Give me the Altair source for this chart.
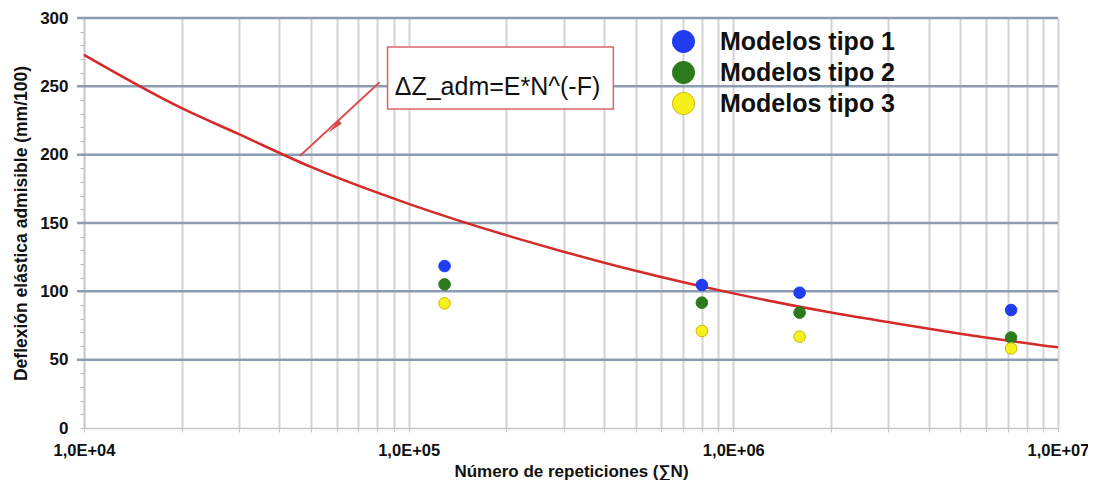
import altair as alt
import pandas as pd

# ---- data ----
curve_n = [1e4, 2e4, 3e4, 5e4, 1e5, 2e5, 3e5, 5e5, 1e6, 2e6, 3e6, 5e6, 1e7]
curve_dz = [273, 234, 215, 191, 164, 141, 129, 115, 98.5, 84.5, 77.5, 69, 59]

group_n = [1.29e5, 8.0e5, 1.6e6, 7.17e6]
tipo1 = [118.5, 104.6, 99.0, 86.3]
tipo2 = [105.1, 91.7, 84.4, 66.2]
tipo3 = [91.2, 71.0, 66.8, 58.2]
series = ["Modelos tipo 1", "Modelos tipo 2", "Modelos tipo 3"]
fill_colors = ["#1f3cf0", "#2b7a1c", "#f8f01c"]
stroke_colors = ["#1f3cf0", "#2b7a1c", "#c9b800"]

x_grid = [k * 10 ** e for e in (4, 5, 6) for k in range(1, 10)] + [1e7]
y_ticks = list(range(0, 301, 10))
y_major = [50, 100, 150, 200, 250, 300]

formula_label = "\u0394Z_adm=E*N^(-F)"
box_n = [8.61e4, 4.27e5]
box_dz = [278.7, 233.4]
label_n = 9.06e4
label_dz = 249.5
arrow_n = [4.62e4, 8.14e4]
arrow_dz = [199.0, 253.0]
head_n = 5.9e4
head_dz = 220.0

FONT = "Liberation Sans"
W, H = 974, 410

xscale = alt.Scale(type="log", domain=[1e4, 1e7], nice=False)
yscale = alt.Scale(domain=[0, 300], nice=False)

curve_df = pd.DataFrame({"N": curve_n, "dz": curve_dz})
rows = []
for s, vals in zip(series, [tipo1, tipo2, tipo3]):
    for n, v in zip(group_n, vals):
        rows.append({"N": n, "dz": v, "serie": s})
pts_df = pd.DataFrame(rows)

x_axis = alt.Axis(
    values=x_grid,
    labelExpr="slice(format(datum.value,'.1e'),0,4)=='1.0e' ? '1,0E+0' + slice(format(datum.value,'.1e'),5) : ''",
    labelOverlap=False,
    labelFlush=False,
    labelFont=FONT, labelFontSize=16.5, labelFontWeight="bold", labelColor="#111",
    labelPadding=10,
    title="Número de repeticiones (∑N)",
    titleFont=FONT, titleFontSize=17, titleFontWeight="bold", titleColor="#111",
    titlePadding=5,
    grid=True, gridColor="#d4d4d4", gridWidth=2,
    domainColor="#c8c8c8", domainWidth=1.5,
    tickColor="#c8c8c8", tickSize=4,
)
y_axis = alt.Axis(
    values=y_ticks,
    labelExpr="datum.value % 50 == 0 ? datum.label : ''",
    labelOverlap=False,
    labelFont=FONT, labelFontSize=17, labelFontWeight="bold", labelColor="#111",
    labelPadding=12,
    title="Deflexión elástica admisible (mm/100)",
    titleFont=FONT, titleFontSize=17.5, titleFontWeight="bold", titleColor="#111",
    titlePadding=9,
    grid=False,
    domainColor="#c8c8c8", domainWidth=1.5,
    tickColor="#b8b8b8", tickSize=4,
)


def X(field):
    return alt.X(field, scale=xscale, axis=x_axis)


def Y(field):
    return alt.Y(field, scale=yscale, axis=y_axis)


hgrid = alt.Chart(pd.DataFrame({"dz": y_major})).mark_rule(
    color="#8c9db3", strokeWidth=2.5
).encode(y=Y("dz:Q"), x=alt.value(-7), x2=alt.value(W))

curve = alt.Chart(curve_df).mark_line(
    color="#d42a2a", strokeWidth=2.5, interpolate="monotone"
).encode(x=X("N:Q"), y=Y("dz:Q"))

points = alt.Chart(pts_df).mark_circle(size=135, opacity=1, strokeWidth=1).encode(
    x=X("N:Q"),
    y=Y("dz:Q"),
    color=alt.Color(
        "serie:N",
        scale=alt.Scale(domain=series, range=fill_colors),
        legend=alt.Legend(
            title=None, orient="none", legendX=587, legendY=11,
            symbolSize=490, symbolType="circle", symbolStrokeWidth=1,
            labelFont=FONT, labelFontSize=25, labelFontWeight="bold", labelColor="#111",
            labelOffset=24, rowPadding=4, padding=0, labelLimit=400,
        ),
    ),
    stroke=alt.Stroke("serie:N", scale=alt.Scale(domain=series, range=stroke_colors), legend=None),
)

arrow = alt.Chart(pd.DataFrame({"n1": [arrow_n[0]], "n2": [arrow_n[1]], "d1": [arrow_dz[0]], "d2": [arrow_dz[1]]})).mark_rule(
    color="#df4b4d", strokeWidth=1.8
).encode(
    x=X("n1:Q"), x2="n2:Q",
    y=Y("d1:Q"), y2="d2:Q",
)
head = alt.Chart(pd.DataFrame({"N": [head_n], "dz": [head_dz]})).mark_point(
    shape="M0,-1L0.3,1L-0.3,1Z", angle=227, filled=True, size=260, color="#d9484a", opacity=1
).encode(x=X("N:Q"), y=Y("dz:Q"))

box = alt.Chart(pd.DataFrame({"n1": [box_n[0]], "n2": [box_n[1]], "d1": [box_dz[0]], "d2": [box_dz[1]]})).mark_rect(
    fill="white", stroke="#d9646a", strokeWidth=1.5
).encode(
    x=X("n1:Q"), x2="n2:Q",
    y=Y("d1:Q"), y2="d2:Q",
)
label = alt.Chart(pd.DataFrame({"N": [label_n], "dz": [label_dz], "t": [formula_label]})).mark_text(
    align="left", baseline="middle", font=FONT, fontSize=25, color="#111"
).encode(x=X("N:Q"), y=Y("dz:Q"), text="t:N")

chart = alt.layer(hgrid, curve, arrow, head, box, label, points).properties(
    width=W, height=H,
    autosize=alt.AutoSizeParams(type="none"),
    padding={"left": 76, "top": 10, "right": 30, "bottom": 52},
).configure_view(stroke=None).configure(background="white")

chart.save("out.html", embed_options={"renderer": "svg", "actions": False})
